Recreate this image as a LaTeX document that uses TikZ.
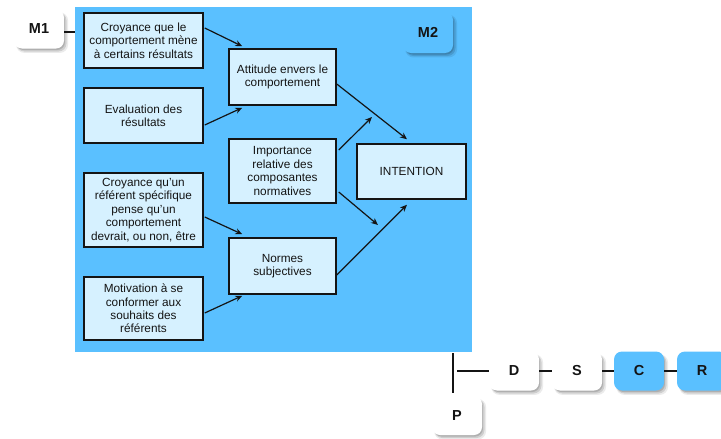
\documentclass[tikz,border=0pt]{standalone}
\usepackage{fontspec}
\setmainfont{Liberation Sans}
\usetikzlibrary{arrows.meta,shadows}
\definecolor{bgblue}{RGB}{90,192,255}
\definecolor{boxblue}{RGB}{214,241,255}
\definecolor{txt}{RGB}{20,20,20}
\tikzset{
  x=1pt,y=-1pt,
  concept/.style={draw=txt,line width=1.5pt,fill=boxblue,align=center,inner sep=1pt,
    font=\fontsize{11.8}{13.4}\selectfont,text=txt},
  softshadow/.style={
    drop shadow={shadow xshift=3pt,shadow yshift=-3.5pt,opacity=.08,fill=black,shadow scale=1.04},
    drop shadow={shadow xshift=2.5pt,shadow yshift=-3pt,opacity=.12,fill=black},
    drop shadow={shadow xshift=1.5pt,shadow yshift=-2pt,opacity=.15,fill=black,shadow scale=.98}},
  navbox/.style={rounded corners=8pt,fill=white,minimum width=50pt,minimum height=39pt,
    font=\fontsize{14.5}{16}\selectfont\bfseries,text=txt,softshadow},
  bluenav/.style={navbox,fill=bgblue},
  link/.style={line width=1.2pt,draw=txt},
  arr/.style={link,-{Stealth[length=7pt,width=6pt]}}
}
\begin{document}
\begin{tikzpicture}
\useasboundingbox (0,0) rectangle (721,439);
\node[fill=bgblue,minimum width=397pt,minimum height=345pt,inner sep=0pt] (bg) at (273.5,179.5) {};
\node[navbox] (m1) at (39,29) {M1};
\node[bluenav,minimum height=41pt] (m2) at (428,32.5) {M2};
\draw[link] ([yshift=-3pt]m1.east) -- ([yshift=-3pt]m1.east -| bg.west);

\node[concept,minimum width=119pt,minimum height=55pt] (b1) at (143.5,40.5) {Croyance que le\\comportement mène\\à certains résultats};
\node[concept,minimum width=119pt,minimum height=55pt] (b2) at (143.5,115.5) {Evaluation des\\résultats};
\node[concept,minimum width=119pt,minimum height=74pt] (b3) at (143.5,210) {Croyance qu’un\\référent spécifique\\pense qu’un\\comportement\\devrait, ou non, être};
\node[concept,minimum width=119pt,minimum height=63pt] (b4) at (143.5,308.5) {Motivation à se\\conformer aux\\souhaits des\\référents};
\node[concept,minimum width=107pt,minimum height=56pt] (att) at (282.5,77) {Attitude envers le\\comportement};
\node[concept,minimum width=107pt,minimum height=64pt] (imp) at (282.5,171) {Importance\\relative des\\composantes\\normatives};
\node[concept,minimum width=107pt,minimum height=56pt] (norm) at (282.5,266) {Normes\\subjectives};
\node[concept,minimum width=109pt,minimum height=55pt] (int) at (411.5,171.5) {INTENTION};

\coordinate (e1) at (372,117);
\coordinate (e2) at (378,225);
\draw[arr] ([xshift=1pt,yshift=12.5pt]b1.east) -- ([xshift=14pt,yshift=2pt]att.north west);
\draw[arr] ([xshift=1pt,yshift=-9.5pt]b2.east) -- ([xshift=14pt,yshift=-2pt]att.south west);
\draw[arr] ([yshift=-7pt]att.east) -- ([xshift=-4.5pt,yshift=4pt]int.north);
\draw[arr] ([xshift=2pt,yshift=21pt]imp.east) -- (e1);
\draw[arr] ([xshift=2pt,yshift=-21pt]imp.east) -- (e2);
\draw[arr] ([xshift=1pt,yshift=-7pt]b3.east) -- ([xshift=14pt,yshift=3pt]norm.north west);
\draw[arr] ([xshift=1pt,yshift=-4.5pt]b4.east) -- ([xshift=14pt,yshift=-1pt]norm.south west);
\draw[arr] ([yshift=-9pt]norm.east) -- ([xshift=-4.5pt,yshift=-5pt]int.south);

\node[navbox] (d) at (514,371) {D};
\node[navbox] (s) at (577,371) {S};
\node[bluenav] (c) at (639,371) {C};
\node[bluenav] (r) at (702,371) {R};
\node[navbox] (p) at (457,415.5) {P};
\coordinate (j) at (453,371);
\draw[link] ([yshift=-1pt]bg.south -| j) -- ([yshift=3pt]p.north -| j);
\draw[link] ([xshift=4pt]j) -- (d.west);
\draw[link] (d.east) -- (s.west);
\draw[link] (s.east) -- (c.west);
\draw[link] (c.east) -- (r.west);
\end{tikzpicture}
\end{document}
